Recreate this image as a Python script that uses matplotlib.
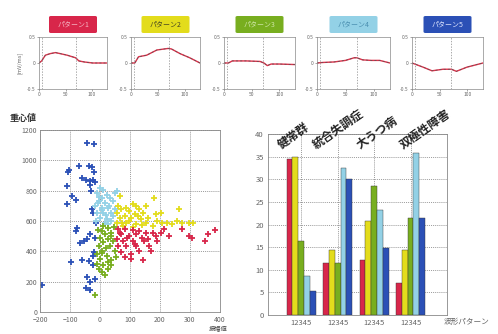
import matplotlib
matplotlib.use("Agg")
import matplotlib.pyplot as plt
from matplotlib.patches import FancyBboxPatch

plt.rcParams['font.family'] = ['Noto Sans CJK JP', 'DejaVu Sans']

# パターンごとの色
colors = ['#d8264a', '#e3dc1c', '#78ae1f', '#93d1e6', '#2b50b6']
pattern_names = ['パターン1', 'パターン2', 'パターン3', 'パターン4', 'パターン5']
name_colors = ['#f4b6c4', '#444422', '#cfe6a8', '#4a8fb0', '#dfe6ff']

# 各パターンの平均波形 (時間, 値)
wave1_t = [0, 5, 12, 21, 31, 40, 53, 69, 75, 85, 101, 128]
wave1_v = [0, 0.04, 0.15, 0.18, 0.2, 0.18, 0.15, 0.1, 0.04, 0.02, 0, 0]
wave2_t = [0, 7, 14, 29, 48, 69, 75, 91, 109, 128]
wave2_v = [0, 0, 0.12, 0.15, 0.25, 0.28, 0.27, 0.18, 0.1, 0]
wave3_t = [0, 8, 15, 40, 65, 72, 78, 85, 100, 128]
wave3_v = [0, 0, 0.04, 0.04, 0.03, 0.0, -0.05, -0.02, -0.02, -0.03]
wave4_t = [0, 10, 30, 50, 65, 70, 80, 95, 110, 128]
wave4_v = [0, 0.01, 0.02, 0.05, 0.1, 0.1, 0.06, 0.05, 0.05, 0.0]
wave5_t = [0, 20, 36, 56, 71, 80, 99, 128]
wave5_v = [0, -0.08, -0.15, -0.12, -0.12, -0.16, -0.08, 0]
waves = [(wave1_t, wave1_v), (wave2_t, wave2_v), (wave3_t, wave3_v),
         (wave4_t, wave4_v), (wave5_t, wave5_v)]
marker_lines = [5, 70]

# 散布図 (振幅値, 重心値)
blue_x = [-44, -20, -104, -107, -69, -38, -27, -20, -60, -46, -33, -22, -16, -33, -31,
          -109, -111, -93, -79, -27, -25, -13, -77, -79, -33, -42, -55, -66, -16, -20,
          -25, -98, -60, -38, -25, -42, -33, -16, -46, -33, -195]
blue_y = [1114, 1105, 936, 920, 962, 964, 958, 925, 882, 871, 865, 871, 860, 839, 795,
          828, 715, 763, 737, 676, 650, 585, 557, 535, 513, 481, 470, 455, 491, 394,
          368, 329, 340, 333, 307, 231, 198, 220, 155, 144, 181]
lblue_x = [0, 11, -11, 22, 5, 33, -5, 16, 44, -16, 5, 27, 49, -9, 11, 35, 0, 22, 44,
           -13, 16, 55, 30, -2, 8, 38, 20, -6, 26, 50]
lblue_y = [817, 806, 784, 774, 752, 752, 730, 719, 730, 698, 687, 687, 784, 654, 650,
           654, 622, 615, 633, 600, 589, 795, 700, 760, 670, 600, 640, 720, 580, 680]
yellow_x = [66, 180, 109, 120, 87, 71, 131, 98, 55, 142, 82, 115, 66, 104, 137, 55, 87,
            120, 153, 186, 202, 191, 208, 224, 240, 262, 257, 273, 311, 295, 175, 77,
            60, 153, 126, 95, 160, 110, 72, 140]
yellow_y = [763, 752, 709, 698, 687, 676, 676, 665, 654, 654, 633, 643, 622, 622, 611,
            589, 589, 578, 589, 643, 654, 600, 589, 589, 578, 680, 600, 589, 589, 585,
            567, 567, 698, 698, 633, 600, 620, 560, 590, 575]
green_x = [11, 27, 5, 38, 16, 0, 27, 44, 11, -5, 33, 5, 49, -11, 22, 0, 38, -11, 11,
           27, 5, 38, 52, -16, 16, -5, 20, 35, 8, -8, 45, 25]
green_y = [567, 557, 535, 524, 513, 491, 481, 470, 459, 437, 437, 405, 405, 383, 372,
           350, 340, 318, 307, 285, 263, 311, 361, 112, 242, 285, 420, 500, 390, 540,
           560, 330]
red_x = [60, 82, 109, 131, 153, 71, 98, 120, 77, 109, 148, 175, 186, 213, 60, 87, 120,
         164, 71, 104, 131, 169, 104, 142, 273, 295, 306, 350, 361, 383, 202, 55, 82,
         90, 140, 65, 115, 160, 190, 230]
red_y = [546, 546, 541, 535, 524, 513, 502, 513, 470, 470, 470, 524, 502, 546, 437,
         437, 437, 437, 394, 383, 405, 405, 350, 340, 546, 502, 491, 470, 513, 541,
         524, 481, 361, 490, 490, 520, 450, 480, 470, 500]

# 群別のパターン割合 [%]
groups = ['健常群', '統合失調症', '大うつ病', '双極性障害']
ratio_p1 = [34.5, 11.5, 12.2, 7.1]
ratio_p2 = [35.0, 14.3, 20.8, 14.3]
ratio_p3 = [16.3, 11.6, 28.4, 21.4]
ratio_p4 = [8.7, 32.5, 23.3, 35.7]
ratio_p5 = [5.4, 30.0, 14.7, 21.4]
ratios = [ratio_p1, ratio_p2, ratio_p3, ratio_p4, ratio_p5]

fig = plt.figure(figsize=(4.98, 3.34), dpi=100)
W, H = 498, 334


def px_axes(l, t, r, b):
    return fig.add_axes([l / W, 1 - b / H, (r - l) / W, (b - t) / H])


tick_col = '#666666'

# ---- 上段: 波形パターン ----
panel_lr = [(39, 107), (131, 200), (224, 295), (317, 390), (412, 483)]
for i, ((l, r), (t_, v_)) in enumerate(zip(panel_lr, waves)):
    ax = px_axes(l, 37, r, 89)
    ax.plot(t_, v_, color='#e0304a', lw=1.0)
    ax.plot(t_, v_, color='#555555', lw=0.5, ls=(0, (3, 3)))
    for m in marker_lines:
        ax.axvline(m, color='#888888', lw=0.5, ls=(0, (2, 2)))
    ax.set_xlim(0, 128)
    ax.set_ylim(-0.5, 0.5)
    ax.set_xticks([0, 50, 100])
    ax.set_yticks([-0.5, 0, 0.5])
    ax.set_yticklabels(['-0.5', '0', '0.5'])
    ax.tick_params(labelsize=3.5, colors=tick_col, length=1.5, width=0.4, pad=1)
    for s in ax.spines.values():
        s.set_color('#888888')
        s.set_linewidth(0.5)
    if i == 0:
        ax.set_ylabel('[mV/ms]', fontsize=4, color=tick_col, labelpad=3)
    # パターン名のラベル
    cx = (l + r) / 2
    box = FancyBboxPatch(((cx - 24) / W, 1 - 33 / H), 48 / W, 17 / H,
                         boxstyle='round,pad=0,rounding_size=0.004',
                         transform=fig.transFigure, facecolor=colors[i],
                         edgecolor='none')
    fig.patches.append(box)
    fig.text(cx / W, 1 - 24.5 / H, pattern_names[i], fontsize=5,
             color=name_colors[i], ha='center', va='center')

# ---- 左下: 散布図 ----
ax1 = px_axes(40, 130, 220, 312)
cross = dict(marker='+', ls='none', ms=5, mew=1.3)
ax1.plot(blue_x, blue_y, color=colors[4], **cross)
ax1.plot(lblue_x, lblue_y, color=colors[3], **cross)
ax1.plot(green_x, green_y, color=colors[2], **cross)
ax1.plot(yellow_x, yellow_y, color=colors[1], **cross)
ax1.plot(red_x, red_y, color=colors[0], **cross)
ax1.set_xlim(-200, 400)
ax1.set_ylim(0, 1200)
ax1.set_xticks(range(-200, 401, 100))
ax1.set_yticks(range(0, 1201, 200))
ax1.grid(True, color='#777777', lw=0.5, ls=(0, (1.5, 1.5)))
ax1.tick_params(labelsize=5, colors=tick_col, length=0, pad=2)
ax1.tick_params(axis='x', pad=3)
for s in ax1.spines.values():
    s.set_color('#888888')
    s.set_linewidth(0.6)
fig.text(10 / W, 1 - 118 / H, '重心値', fontsize=6.5, color='#333333',
         ha='left', va='center', fontweight='bold')
fig.text(218 / W, 1 - 328 / H, '振幅値', fontsize=4.5, color='#444444',
         ha='center', va='center')

# ---- 右下: 群別棒グラフ ----
ax2 = px_axes(268, 134, 447, 315)
bw = 0.16
xs = [1, 2, 3, 4]
for k, vals in enumerate(ratios):
    pos = [x + (k - 2) * bw for x in xs]
    ax2.bar(pos, vals, width=bw, color=colors[k], edgecolor='#333333', lw=0.3,
            zorder=3)
ax2.set_xlim(0.09, 5.0)
ax2.set_ylim(0, 40)
ax2.set_yticks(range(0, 41, 5))
ax2.set_xticks(xs)
ax2.set_xticklabels(['12345'] * 4)
ax2.grid(True, color='#777777', lw=0.5, ls=(0, (1.5, 1.5)), zorder=0)
ax2.tick_params(labelsize=5.5, colors=tick_col, length=0, pad=3)
for s in ax2.spines.values():
    s.set_color('#888888')
    s.set_linewidth(0.6)
fig.text(467 / W, 1 - 322 / H, '波形パターン', fontsize=5.5, color='#666666',
         ha='center', va='center')

label_x = [0.5, 1.45, 2.65, 3.85]
for gx, name in zip(label_x, groups):
    ax2.text(gx, 36.2, name, rotation=35, rotation_mode='anchor', ha='left',
             va='bottom', fontsize=8.5, fontweight='bold', color='#222222',
             zorder=5, clip_on=False)

fig.savefig('out.png', dpi=100)
